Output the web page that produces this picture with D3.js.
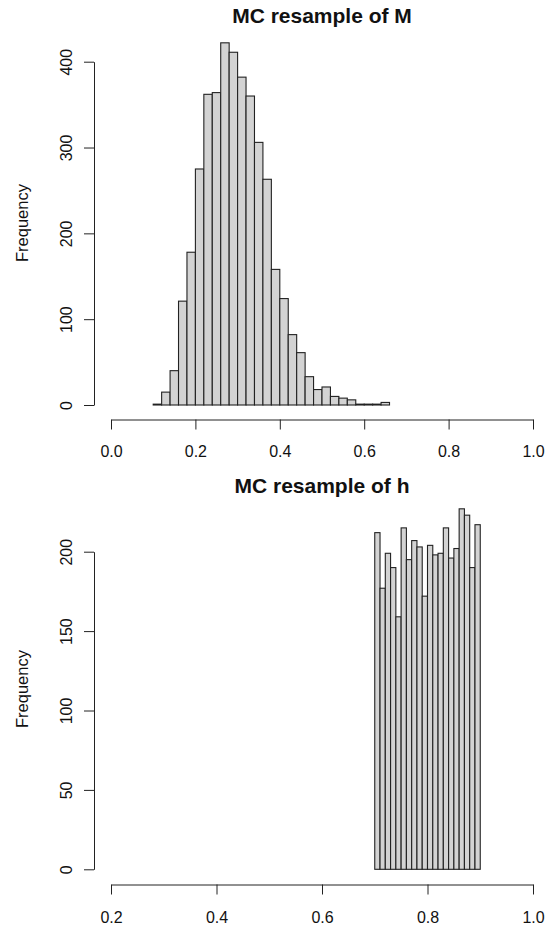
<!DOCTYPE html>
<html>
<head>
<meta charset="utf-8">
<script src="https://cdn.jsdelivr.net/npm/d3@7"></script>
<style>
  html, body { margin: 0; padding: 0; background: #fff; }
  svg { display: block; }
  text { font-family: "Liberation Sans", Arial, sans-serif; fill: #111; }
</style>
</head>
<body>
<script>
// ---- Data ----
const mTitle = "MC resample of M";
const mBreaks = [0.10,0.12,0.14,0.16,0.18,0.20,0.22,0.24,0.26,0.28,0.30,0.32,0.34,0.36,0.38,0.40,0.42,0.44,0.46,0.48,0.50,0.52,0.54,0.56,0.58,0.60,0.62,0.64,0.66];
const mCounts = [1,15,40,121,178,275,362,364,422,411,382,360,306,263,158,124,82,61,33,18,21,10,8,6,1,1,1,3];
const mXTicks = [0.0,0.2,0.4,0.6,0.8,1.0];
const mYTicks = [0,100,200,300,400];

const hTitle = "MC resample of h";
const hBreaks = [0.70,0.71,0.72,0.73,0.74,0.75,0.76,0.77,0.78,0.79,0.80,0.81,0.82,0.83,0.84,0.85,0.86,0.87,0.88,0.89,0.90];
const hCounts = [212,177,199,190,159,215,195,207,203,172,204,198,199,215,196,202,227,223,190,217];
const hXTicks = [0.2,0.4,0.6,0.8,1.0];
const hYTicks = [0,50,100,150,200];

const yLabel = "Frequency";

// ---- Drawing ----
const W = 545, H = 931;
const svg = d3.select("body").append("svg").attr("width", W).attr("height", H);

function panel(cfg) {
  const x = d3.scaleLinear().domain(cfg.xDomain).range([111, 533]);
  const y = d3.scaleLinear().domain(cfg.yDomain).range(cfg.yRange);
  const g = svg.append("g");

  // bars
  const bins = cfg.counts.map((c, i) => ({x0: cfg.breaks[i], x1: cfg.breaks[i + 1], c}));
  g.selectAll("rect.bar").data(bins).enter().append("rect")
    .attr("class", "bar")
    .attr("x", d => x(d.x0))
    .attr("width", d => x(d.x1) - x(d.x0))
    .attr("y", d => y(d.c))
    .attr("height", d => y(0) - y(d.c))
    .attr("fill", "#d3d3d3")
    .attr("stroke", "#222")
    .attr("stroke-width", 1.1);

  // x axis
  const xa = g.append("g")
    .attr("transform", `translate(0,${cfg.xAxisY})`)
    .call(d3.axisBottom(x).tickValues(cfg.xTicks).tickSize(10).tickSizeOuter(0).tickFormat(d3.format(".1f")));
  xa.select(".domain").attr("stroke", "#222");
  xa.selectAll(".tick line").attr("stroke", "#222");
  xa.selectAll(".tick text")
    .attr("y", cfg.xLabelOff).attr("dy", 0)
    .style("font-size", "16px").attr("fill", "#111");

  // y axis
  const ya = g.append("g")
    .attr("transform", "translate(94,0)")
    .call(d3.axisLeft(y).tickValues(cfg.yTicks).tickSize(10).tickSizeOuter(0));
  ya.select(".domain").attr("stroke", "#222");
  ya.selectAll(".tick line").attr("stroke", "#222");
  ya.selectAll(".tick text")
    .attr("x", 0).attr("y", 0).attr("dy", 0)
    .attr("text-anchor", "middle")
    .attr("transform", "translate(-22,0) rotate(-90)")
    .style("font-size", "16px").attr("fill", "#111");

  // y label
  g.append("text")
    .attr("transform", `translate(28,${cfg.yLabelY}) rotate(-90)`)
    .attr("text-anchor", "middle")
    .style("font-size", "16.5px")
    .text(yLabel);

  // title
  g.append("text")
    .attr("x", 322).attr("y", cfg.titleY)
    .attr("text-anchor", "middle")
    .style("font-size", "21px").style("font-weight", "bold")
    .text(cfg.title);

  ya.selectAll("text").style("font-family", "'Liberation Sans', Arial, sans-serif");
  xa.selectAll("text").style("font-family", "'Liberation Sans', Arial, sans-serif");
}

panel({
  title: mTitle, breaks: mBreaks, counts: mCounts,
  xDomain: [0, 1], xTicks: mXTicks,
  yDomain: [0, 400], yRange: [405, 61.7], yTicks: mYTicks,
  xAxisY: 419.5, xLabelOff: 37.5, yLabelY: 223, titleY: 23
});

panel({
  title: hTitle, breaks: hBreaks, counts: hCounts,
  xDomain: [0.2, 1], xTicks: hXTicks,
  yDomain: [0, 200], yRange: [869.3, 551.7], yTicks: hYTicks,
  xAxisY: 884.5, xLabelOff: 38.5, yLabelY: 689, titleY: 493
});
</script>
</body>
</html>
